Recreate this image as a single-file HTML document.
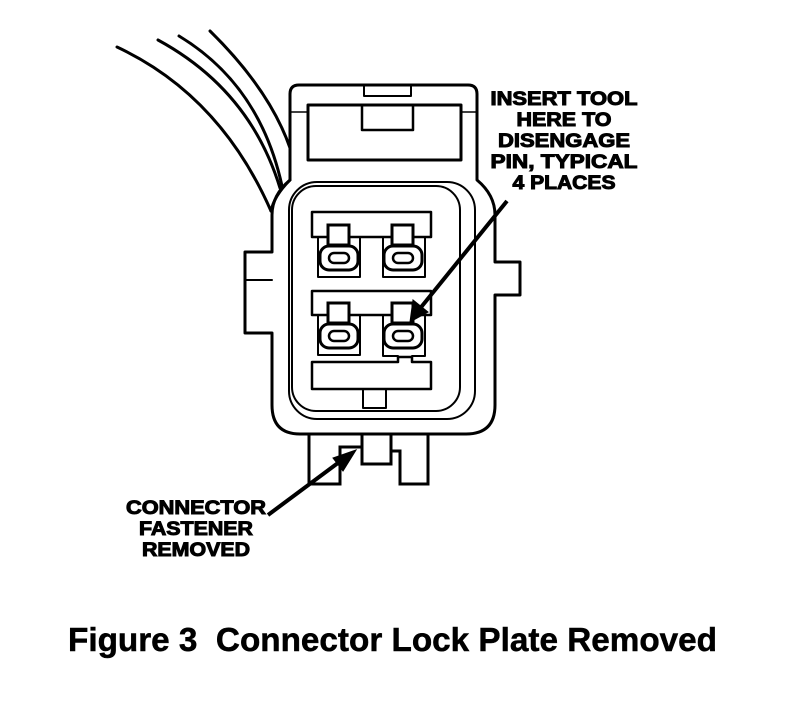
<!DOCTYPE html>
<html><head><style>
html,body{margin:0;padding:0;background:#fff;}
svg{display:block;}
text{font-family:"Liberation Sans",Arial,sans-serif;font-weight:bold;fill:#000;stroke:#000;}
</style></head><body>
<svg width="800" height="706" viewBox="0 0 800 706" xmlns="http://www.w3.org/2000/svg">
<g fill="none" stroke="#000" stroke-linecap="round" stroke-linejoin="round">
<!-- wires -->
<path d="M117,47 Q220,95 271,211" stroke-width="3"/>
<path d="M158,40 Q250,90 280,188" stroke-width="3"/>
<path d="M179,36 Q260,85 282,186" stroke-width="3"/>
<path d="M210,31 Q270,90 290,148" stroke-width="3"/>
<path d="M271,211 Q274,196 290,180" stroke-width="3"/>
<!-- outer body -->
<path d="M290,180 L290,94 Q290,85 299,85 L468,85 Q477,85 477,94 L477,180 Q495,195 495,215 L495,262 L520,262 L520,295 L495,295 L495,405 Q495,434 466,434 L300,434 Q272,434 272,405 L272,333 L245,333 L245,252 L272,252 L272,215 Q272,195 290,180 Z" stroke-width="3"/>
<path d="M245,280 L272,280" stroke-width="2"/>
<path d="M364,85 L364,96 L411,96 L411,85" stroke-width="2"/>
<rect x="308" y="105" width="153" height="55" stroke-width="3"/>
<path d="M362,105 L362,130 L413,130 L413,105" stroke-width="2.5"/>
<path d="M290,112 L308,112 M461,112 L477,112" stroke-width="1.5"/>
<rect x="289" y="182" width="186" height="237" rx="28" stroke-width="2"/>
<rect x="292" y="186" width="168" height="225" rx="24" stroke-width="2"/>
<rect x="312" y="212" width="119" height="25" stroke-width="2.5"/>
<rect x="312" y="291" width="119" height="24" stroke-width="2.5"/>
<path d="M312,362 L398,362 L398,357 L412,357 L412,362 L431,362 L431,389 L312,389 Z" stroke-width="2.5"/>
<rect x="363" y="389" width="23" height="19" stroke-width="2"/>
<rect x="318" y="237" width="42" height="40" stroke-width="2"/>
<rect x="383" y="237" width="42" height="40" stroke-width="2"/>
<rect x="318" y="315" width="42" height="40" stroke-width="2"/>
<path d="M383,315 L383,356 L398,356 M412,356 L425,356 L425,315" stroke-width="2"/>
</g>
<g stroke="#000" fill="#fff">
<g id="p1">
<rect x="328" y="225" width="21" height="20" stroke-width="3"/>
<rect x="320" y="246" width="38" height="24" rx="9" stroke-width="3"/>
<rect x="329" y="253" width="20" height="10" rx="5" stroke-width="2.5"/>
</g>
<use href="#p1" x="64"/>
<use href="#p1" y="78"/>
<use href="#p1" x="64" y="78"/>
</g>
<g fill="none" stroke="#000" stroke-width="3" stroke-linejoin="miter">
<path d="M309,434 L309,484 L340,484 L340,447 L362,447"/>
<rect x="362" y="434" width="29" height="30"/>
<path d="M391,451 L400,451 L400,484 L428,484 L428,434"/>
</g>
<g stroke="#000" stroke-width="4" fill="#000">
<line x1="268" y1="515" x2="346" y2="457"/>
<polygon points="356,450 333,458 343,471" stroke-width="1"/>
<line x1="507" y1="201" x2="418" y2="311"/>
<polygon points="410,322 413,300 428,312" stroke-width="1"/>
</g>
<g font-size="19" text-anchor="middle" stroke-width="1">
<text x="564" y="105" textLength="147" lengthAdjust="spacingAndGlyphs">INSERT TOOL</text>
<text x="564" y="126" textLength="95" lengthAdjust="spacingAndGlyphs">HERE TO</text>
<text x="564" y="147" textLength="132" lengthAdjust="spacingAndGlyphs">DISENGAGE</text>
<text x="564" y="168" textLength="147" lengthAdjust="spacingAndGlyphs">PIN, TYPICAL</text>
<text x="564" y="189" textLength="103" lengthAdjust="spacingAndGlyphs">4 PLACES</text>
<text x="196" y="514" textLength="140" lengthAdjust="spacingAndGlyphs">CONNECTOR</text>
<text x="196" y="535" textLength="114" lengthAdjust="spacingAndGlyphs">FASTENER</text>
<text x="196" y="556" textLength="108" lengthAdjust="spacingAndGlyphs">REMOVED</text>
</g>
<text x="68" y="651" font-size="33" stroke-width="0.5" textLength="649" lengthAdjust="spacingAndGlyphs" xml:space="preserve">Figure 3  Connector Lock Plate Removed</text>
</svg>
</body></html>
